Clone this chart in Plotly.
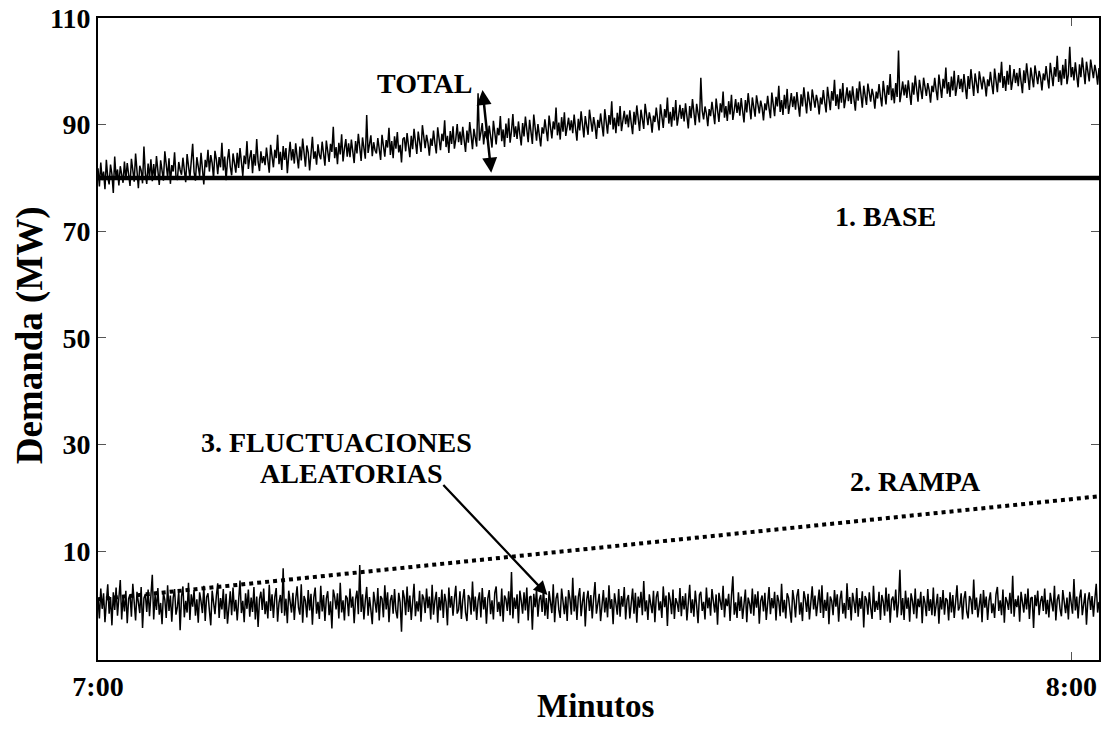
import numpy as np
import plotly.graph_objects as go

# --- data ---
x_ticks = [0, 60]
x_tick_labels = ["7:00", "8:00"]
y_ticks = [10, 30, 50, 70, 90, 110]
x_end = 61.7  # minutes covered by the record

base_level = [80, 80]
base_t = [0, x_end]

ramp_t = [0, x_end]
ramp_values = [1.0, 20.3]

fluct_values = [
    1.2,-2.6,3.0,-0.8,2.1,-3.3,0.5,3.8,-1.7,1.4,-3.9,2.3,-1.0,3.2,-2.1,0.7,4.6,-2.8,1.6,-1.3,
    2.6,-3.5,1.1,1.9,-2.3,3.9,-0.7,-3.0,2.4,0.4,-1.6,3.3,-4.4,1.2,2.0,-1.4,2.8,-2.2,0.9,5.6,
    -2.8,1.8,-1.0,3.1,-1.9,0.3,-3.7,2.2,0.9,-2.5,3.6,-1.2,1.7,-3.2,1.3,2.9,-1.9,-0.5,2.5,-4.8,
    1.5,3.4,-2.4,0.7,-1.5,4.1,-2.9,1.9,-0.4,2.7,-2.1,1.0,-3.4,2.3,0.6,-1.6,3.5,-3.1,1.4,2.1,
    -1.1,-3.9,2.6,0.8,-1.8,1.6,4.0,-2.5,1.2,-0.9,2.9,-2.7,2.0,-3.6,0.4,2.5,-2.0,3.2,-1.3,0.9,
    -3.0,1.7,4.5,-1.6,0.7,-3.3,2.1,-0.8,2.8,-2.3,1.3,-1.4,3.3,-2.8,1.5,-4.2,1.0,2.4,-1.0,3.0,
    -1.8,0.6,-2.6,3.7,-1.2,1.9,-2.5,1.4,3.1,-3.2,0.3,1.8,-1.6,6.8,-2.1,1.1,-3.5,2.6,0.8,-1.5,
    2.2,-2.9,1.0,3.4,-0.6,-1.9,3.8,-3.4,1.6,0.7,-2.4,2.7,-1.1,2.0,-3.8,1.3,3.2,-1.7,0.5,-2.7,
    3.5,-1.3,1.8,-3.1,1.1,2.5,-2.0,0.6,-4.5,2.8,1.4,-0.9,2.1,-2.6,4.1,-1.5,0.8,-3.0,1.7,1.2,
    -2.2,3.0,-0.6,1.5,-3.5,1.0,2.6,-1.8,7.4,-1.4,1.9,-2.8,0.7,3.3,-2.1,1.4,-1.0,-3.7,2.4,0.6,
    -1.5,3.1,-3.0,1.6,1.1,-2.4,3.6,-0.9,2.3,-3.3,0.8,1.8,-1.7,2.9,-1.2,-2.6,2.2,0.4,-5.1,2.7,
    1.3,-2.0,3.4,-1.4,1.7,-2.9,1.0,3.9,-2.2,0.6,-1.3,2.6,-3.2,1.9,1.1,-1.6,3.0,-0.7,1.5,-2.8,
    3.7,-1.9,0.8,2.4,-3.4,1.4,-1.1,2.8,-2.5,2.0,0.5,-3.9,3.2,-0.6,1.6,-2.1,1.1,3.5,-1.7,-1.0,
    2.5,-2.7,0.9,2.9,-1.5,-3.1,1.8,1.2,-1.9,4.3,-1.3,1.5,-2.9,0.7,2.3,-2.4,3.1,-0.9,1.4,-3.6,
    1.1,2.7,-1.8,0.8,-2.8,2.2,3.4,-1.4,0.5,-2.2,3.0,-3.2,1.7,1.0,-1.2,2.5,-2.0,6.1,-2.6,1.3,
    -0.8,1.9,-3.5,2.6,0.7,-1.7,2.3,-1.1,3.2,-3.0,1.4,1.6,-4.7,2.0,-0.5,2.8,-2.3,0.9,1.8,-1.4,
    3.3,-2.1,1.2,-2.7,2.5,0.8,-1.6,3.8,-3.3,1.1,2.2,-1.0,-2.5,3.0,0.4,-1.8,1.5,-3.1,2.7,1.0,
    -1.9,5.0,-1.3,1.7,-2.9,1.4,3.1,-2.2,0.5,2.4,-4.1,0.9,2.6,-1.2,1.8,-2.6,1.2,4.2,-1.7,0.8,
    2.0,-3.1,0.4,2.7,-1.5,1.3,-2.4,3.6,-0.8,1.0,-3.7,2.1,0.2,-1.9,2.9,-2.3,1.6,-0.4,3.3,-2.8,
    0.9,1.8,-2.6,0.3,3.0,-1.7,2.2,-3.4,1.5,-0.6,2.4,-2.0,4.4,-1.3,0.8,-2.9,1.9,0.1,-1.6,2.6,
    -3.3,1.4,2.5,-1.1,0.6,-2.5,3.4,-0.5,1.7,-4.0,2.3,0.9,-1.8,2.8,-2.7,1.2,0.3,-1.4,3.1,-2.2,
    1.6,-0.9,2.1,-3.0,0.7,3.7,-1.6,1.0,-2.3,2.6,-0.2,-3.5,1.8,2.4,-1.2,0.5,-2.8,3.2,-0.7,1.3,
    -2.1,2.9,0.6,-1.5,1.9,-3.8,2.2,0.8,-1.0,3.5,-2.4,1.1,-0.3,2.0,-3.1,1.6,5.3,-1.9,0.4,-2.5,
    2.3,-1.2,1.5,-2.7,0.9,2.8,-3.3,1.3,0.2,-1.7,3.0,-2.1,1.9,-0.6,2.5,-3.6,0.7,1.7,-1.3,2.2,
    -2.9,0.5,3.3,-1.8,1.2,-0.7,2.4,-3.0,1.8,0.6,-2.2,3.9,-1.5,0.9,-2.6,2.1,1.3,-1.1,-3.4,2.7,
    0.8,-2.4,1.6,2.9,-1.9,0.4,-3.1,2.5,1.1,-1.4,2.0,-2.8,0.6,3.4,-0.9,1.7,-2.2,0.2,2.8,-1.6,
    3.6,-2.5,0.9,-1.2,2.3,-3.7,1.5,0.7,-2.0,2.7,-0.4,1.9,-3.2,1.0,2.6,-1.7,0.3,-2.6,4.0,-1.0,
    1.4,-3.0,2.2,0.5,-1.6,3.1,-2.3,1.2,-0.8,2.5,-4.3,1.6,0.9,-1.9,2.3,-0.6,-2.7,3.5,-1.4,0.7,
    -1.0,2.4,-2.9,1.8,0.6,-2.1,3.2,-1.3,2.0,-3.4,0.9,1.5,-1.1,2.8,-2.4,0.4,6.5,-2.0,1.2,-2.9,
    2.6,-0.8,1.3,-3.2,2.1,0.7,-1.8,3.0,-2.6,1.1,-0.5,2.4,-3.5,1.6,0.3,-2.2,2.9,-1.2,1.0,-2.0,
    3.2,-2.2,0.6,2.0,-3.6,1.4,-0.9,2.7,-1.9,1.2,0.8,-3.0,2.3,-1.5,1.8,-2.5,0.5,3.6,-1.1,-0.4,
    2.1,-2.8,1.1,2.5,-1.4,-2.6,1.6,0.9,-1.8,4.7,-1.0,1.3,-2.4,0.4,2.0,-3.3,2.7,-0.6,1.5,-2.9,
    0.7,2.3,-1.6,0.2,-2.5,1.9,3.3,-1.2,0.8,-2.0,2.8,-3.4,1.4,0.6,-1.0,2.2,-1.7,5.4,-2.3,1.0,
    -0.5,1.7,-3.2,2.4,0.4,-1.5,2.0,-0.9,3.0,-2.7,1.2,1.4,-4.4,1.8,-0.3,2.6,-2.0,0.6,1.6,-1.2,
    3.0,-1.8,0.9,-2.4,2.2,0.5,-1.3,3.5,-3.0,0.9,1.9,-0.8,-2.2,2.7,0.2,-1.6,1.3,-2.8,2.4,0.7,
    -1.7,4.8,-1.1,1.5,-2.6,1.2,2.8,-2.0,0.3,2.1,-3.8,0.7,2.3,-1.0,1.6,-2.3,1.0,3.9,-1.5,0.5,
]

total_values = [
    81.8,78.4,82.9,79.6,81.2,77.9,83.4,80.1,78.8,82.5,80.7,77.2,84.0,79.9,81.6,78.6,82.2,80.4,79.1,83.1,
    79.7,82.8,80.2,78.5,83.6,81.0,79.3,84.6,80.5,78.1,82.3,81.4,79.0,85.9,80.8,78.9,82.7,80.0,83.5,79.4,
    82.6,79.8,84.1,80.9,78.7,83.3,81.8,79.5,85.0,82.0,80.1,83.7,78.9,82.4,81.2,84.8,80.3,79.6,83.0,81.5,
    80.6,83.8,81.3,79.2,84.5,82.7,80.0,83.2,86.4,81.1,79.5,83.9,82.2,80.4,84.7,81.6,78.8,83.4,82.0,85.3,
    81.2,84.3,82.8,79.9,85.1,83.5,80.7,83.9,82.0,86.6,81.4,84.0,79.6,83.3,85.4,82.1,80.5,84.6,83.0,81.0,
    84.7,81.9,85.6,83.2,80.4,84.2,82.6,86.9,81.7,83.8,85.2,80.9,84.5,82.3,87.3,83.0,81.3,85.0,82.8,84.1,
    82.4,85.7,83.1,81.0,86.2,84.4,82.0,85.3,83.7,88.1,82.6,84.9,81.5,86.0,83.4,85.6,80.9,84.2,86.8,83.3,
    85.4,82.7,86.5,84.0,81.8,85.9,83.3,87.4,84.6,82.1,86.1,84.8,81.4,85.2,87.7,83.6,85.0,82.5,86.3,84.3,
    83.5,86.8,84.2,82.3,87.0,85.3,83.0,86.4,84.9,89.6,83.7,85.8,82.6,86.6,84.4,88.2,83.1,85.5,87.3,84.0,
    86.5,83.9,87.2,85.0,82.8,86.9,84.6,88.3,85.4,83.2,87.6,85.8,83.6,91.8,84.7,86.3,88.0,84.1,86.7,85.2,
    84.6,87.5,85.1,83.4,88.1,86.4,84.0,87.1,85.7,89.4,84.3,86.9,83.7,87.8,85.5,88.6,84.8,86.2,82.9,87.3,
    87.6,85.0,88.4,86.1,83.9,87.9,85.4,89.2,86.8,84.5,88.7,86.3,84.9,89.9,87.1,85.6,88.1,86.6,84.2,87.4,
    86.0,88.9,86.5,84.6,89.5,87.7,85.2,88.3,86.9,90.8,85.8,87.9,84.7,88.8,86.4,89.7,85.5,87.3,90.1,86.7,
    88.7,86.2,89.6,87.1,84.9,88.9,86.6,90.5,87.8,85.4,89.2,87.4,85.9,95.9,87.0,88.5,90.3,86.3,88.8,87.6,
    87.2,89.8,87.9,85.7,90.7,88.6,86.3,89.4,88.0,91.6,86.9,89.1,85.8,90.2,87.5,91.2,86.6,88.8,92.0,87.7,
    89.7,87.3,90.6,88.2,86.1,90.3,87.8,91.5,88.9,86.7,90.9,88.5,86.4,91.9,89.3,87.0,90.1,88.4,85.9,89.5,
    88.3,91.0,88.8,86.9,91.7,89.9,87.4,90.6,89.1,93.2,88.0,90.4,87.2,91.4,88.7,92.3,87.9,89.6,91.3,88.9,
    90.8,88.4,91.9,89.3,87.0,91.1,88.9,92.5,90.2,87.6,91.6,89.5,88.1,92.8,90.4,88.7,91.4,89.8,87.3,90.9,
    89.4,92.1,89.9,87.8,92.9,90.6,88.3,91.8,90.0,94.4,89.1,91.3,88.4,92.2,89.7,93.5,88.8,90.7,92.6,90.1,
    91.9,89.5,92.7,90.3,88.2,92.4,90.0,93.6,91.2,88.8,92.8,90.6,89.2,93.9,91.5,89.9,92.3,90.9,88.5,91.7,
    90.5,93.2,91.0,88.9,93.8,91.8,89.4,92.9,91.3,95.1,90.2,92.4,89.6,93.3,90.8,94.6,89.8,91.6,93.7,91.1,
    93.1,90.6,94.0,91.6,89.3,93.5,91.2,94.8,92.4,89.9,93.9,91.8,90.4,98.8,92.6,91.0,93.4,92.1,89.7,92.9,
    91.6,94.3,92.0,90.1,94.9,92.8,90.5,94.0,92.3,96.2,91.3,93.5,90.7,94.4,91.9,95.6,90.9,92.7,94.8,92.2,
    94.2,91.7,95.0,92.6,90.4,94.6,92.3,95.9,93.5,91.0,95.1,92.9,91.5,95.5,93.7,92.1,94.5,93.2,90.8,94.0,
    92.7,95.4,93.1,91.2,96.0,93.9,91.6,95.2,93.4,97.3,92.4,94.6,91.8,95.6,93.0,96.7,92.0,93.8,95.9,93.3,
    95.3,92.8,96.1,93.7,91.5,95.7,93.4,97.0,94.6,92.1,96.2,94.0,92.6,96.6,94.8,93.2,95.6,94.3,91.9,95.1,
    93.8,96.5,94.2,92.3,97.1,95.0,92.7,96.3,94.5,98.4,93.5,95.7,92.9,96.7,94.1,97.8,93.1,94.9,97.0,94.4,
    96.4,93.9,97.2,94.8,92.6,96.8,94.5,98.1,95.7,93.2,97.3,95.1,93.7,97.7,95.9,94.3,96.7,95.4,93.0,96.2,
    94.9,97.6,95.3,93.4,98.2,96.1,93.8,97.4,95.6,99.5,94.6,96.8,94.0,97.8,95.2,103.9,94.2,96.0,98.1,95.5,
    97.5,95.0,98.3,95.9,93.7,97.9,95.6,99.2,96.8,94.3,98.4,96.2,94.8,98.8,97.0,95.4,97.8,96.5,94.1,97.3,
    96.1,98.8,96.5,94.6,99.4,97.3,95.0,98.6,96.8,100.7,95.8,98.0,95.2,99.0,96.4,100.1,95.4,97.2,99.3,96.7,
    98.6,96.1,99.5,97.0,94.8,99.1,96.7,100.4,98.0,95.4,99.6,97.4,95.9,100.0,98.2,96.6,99.0,97.7,95.3,98.5,
    97.2,99.9,97.6,95.7,100.5,98.4,96.1,99.7,97.9,101.8,96.9,99.1,96.3,100.1,97.5,101.2,96.5,98.3,100.4,97.8,
    99.7,97.2,100.6,98.1,95.9,100.2,97.8,101.5,99.1,96.5,100.7,98.5,97.0,101.1,99.3,97.6,100.1,98.8,96.4,99.6,
    98.3,101.0,98.7,96.8,101.6,99.5,97.2,100.8,99.0,102.9,98.0,100.2,97.4,101.2,98.6,102.3,97.6,99.4,104.6,98.9,
    100.8,98.3,101.7,99.2,97.0,101.3,98.9,102.6,100.2,97.6,101.8,99.6,98.1,102.2,100.4,98.7,101.2,99.9,97.5,100.6,
]

# sampling times (regular record over the hour)
t_fluct = np.linspace(0, x_end, len(fluct_values))
t_total = np.linspace(0, x_end, len(total_values))

FONT = "Liberation Serif"

fig = go.Figure()
fig.add_trace(go.Scatter(x=ramp_t, y=ramp_values, mode="lines",
                         line=dict(color="black", width=4, dash="dot"), showlegend=False))
fig.add_trace(go.Scatter(x=t_fluct, y=fluct_values, mode="lines",
                         line=dict(color="black", width=1.5), showlegend=False))
fig.add_trace(go.Scatter(x=t_total, y=total_values, mode="lines",
                         line=dict(color="black", width=1.5), showlegend=False))
fig.add_trace(go.Scatter(x=base_t, y=base_level, mode="lines",
                         line=dict(color="black", width=4.5), showlegend=False))

ann_font = dict(family=FONT, size=28, color="black")

annotations = [
    dict(x=20.1, y=97.7, text="<b>TOTAL</b>", showarrow=False, font=ann_font),
    dict(x=23.7, y=96.5, ax=24.25, ay=80.7, xref="x", yref="y", axref="x", ayref="y",
         text="", showarrow=True, arrowhead=2, startarrowhead=2, arrowside="end+start",
         arrowsize=1.2, startarrowsize=1.2, arrowwidth=2.5, arrowcolor="black"),
    dict(x=48.55, y=72.8, text="<b>1. BASE</b>", showarrow=False, font=ann_font),
    dict(x=50.4, y=23.1, text="<b>2. RAMPA</b>", showarrow=False, font=ann_font),
    dict(x=14.7, y=30.4, text="<b>3. FLUCTUACIONES</b>", showarrow=False, font=ann_font),
    dict(x=15.6, y=24.6, text="<b>ALEATORIAS</b>", showarrow=False, font=ann_font),
    dict(x=27.7, y=1.8, ax=21.2, ay=22.7, xref="x", yref="y", axref="x", ayref="y",
         text="", showarrow=True, arrowhead=2, arrowsize=1.2, arrowwidth=2.3, arrowcolor="black"),
    dict(x=-0.0678, y=0.506, xref="paper", yref="paper", text="<b>Demanda (MW)</b>",
         xanchor="center", yanchor="middle",
         textangle=-90, showarrow=False, font=dict(family=FONT, size=37, color="black")),
    dict(x=0.4975, y=-0.0714, xref="paper", yref="paper", text="<b>Minutos</b>",
         xanchor="center", yanchor="middle",
         showarrow=False, font=dict(family=FONT, size=33, color="black")),
]
for a in annotations:
    a.setdefault("xref", "x")
    a.setdefault("yref", "y")
fig.update_layout(annotations=annotations)

fig.update_layout(
    width=1104, height=729,
    margin=dict(l=98, r=3, t=16, b=69),
    paper_bgcolor="white", plot_bgcolor="white",
    font=dict(family=FONT, color="black"),
    xaxis=dict(range=[0, x_end], tickvals=x_ticks, ticktext=["<b>%s</b>" % s for s in x_tick_labels],
               showgrid=False, zeroline=False, showline=True, linecolor="black", linewidth=2,
               mirror="ticks", ticks="inside", ticklen=8, tickcolor="#555", tickwidth=1,
               tickfont=dict(family=FONT, size=28, color="black")),
    yaxis=dict(range=[-10.4, 110], tickvals=y_ticks, ticktext=["<b>%d</b>" % v for v in y_ticks],
               showgrid=False, zeroline=False, showline=True, linecolor="black", linewidth=2,
               mirror="ticks", ticks="inside", ticklen=8, tickcolor="#555", tickwidth=1,
               tickfont=dict(family=FONT, size=28, color="black")),
)

fig.write_html("out.html", config={"displayModeBar": False},
               post_script="document.body.style.margin='0';")
